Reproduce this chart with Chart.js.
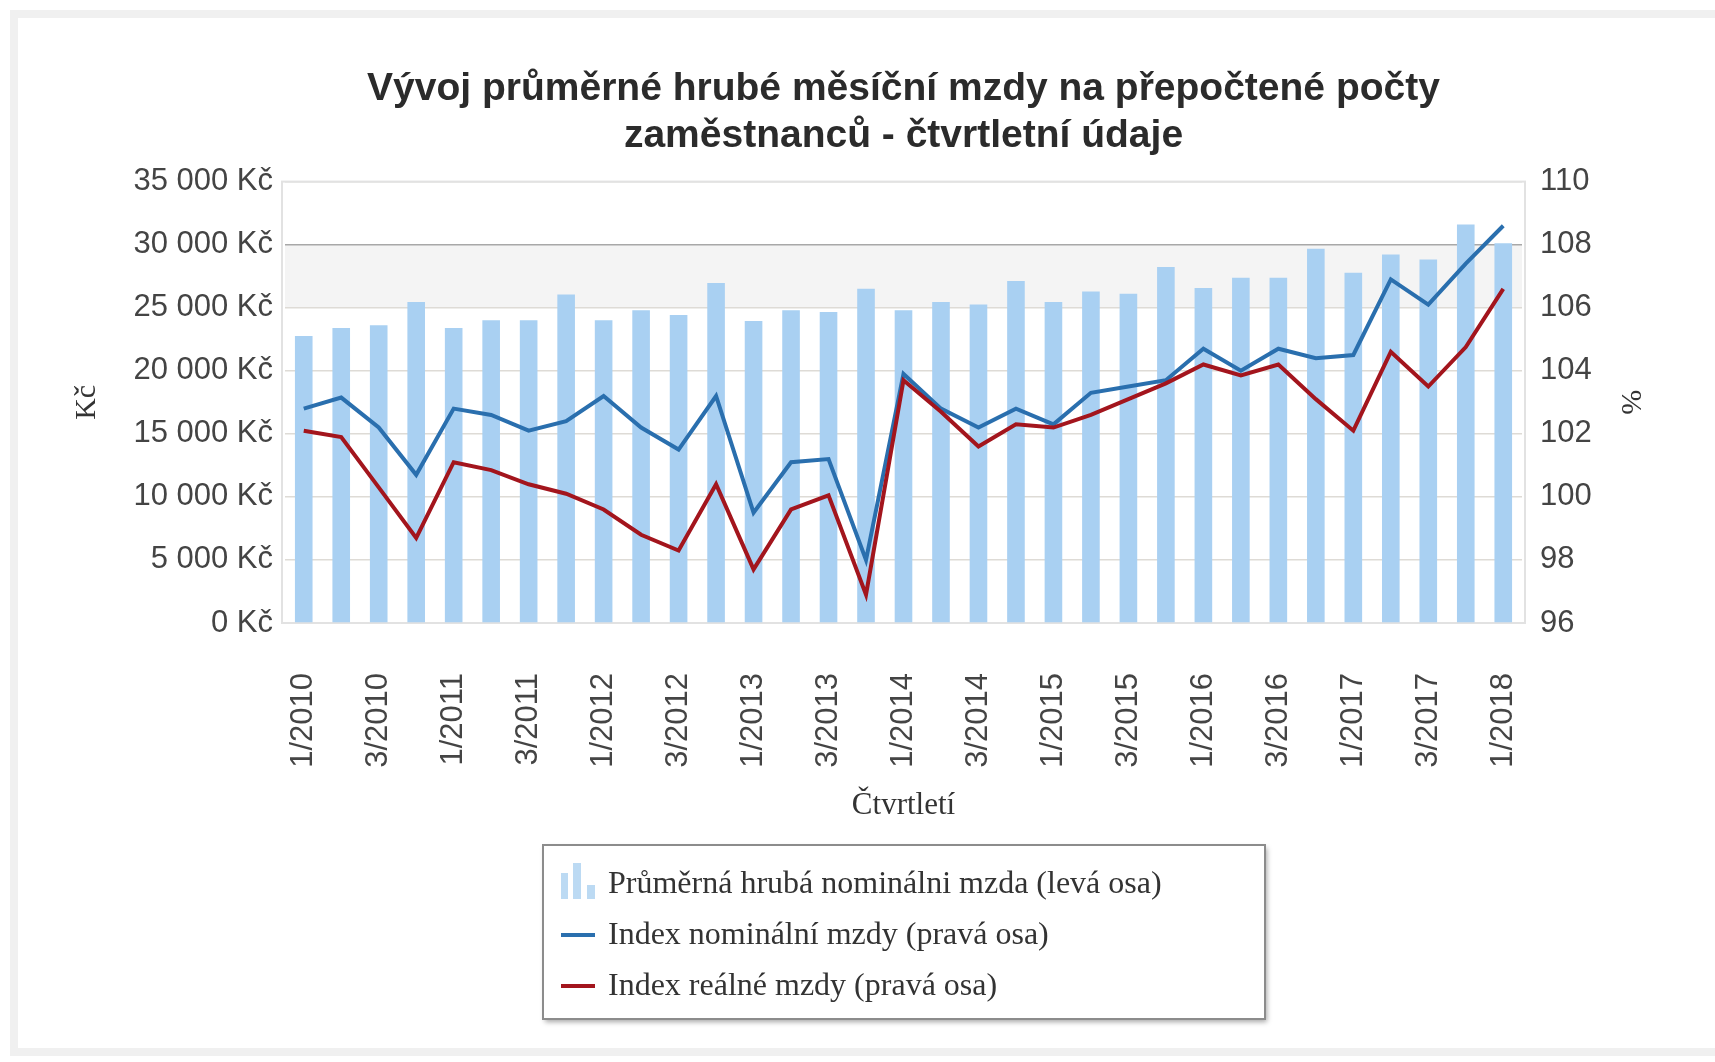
<!DOCTYPE html>
<html lang="cs">
<head>
<meta charset="utf-8">
<title>Vývoj průměrné hrubé měsíční mzdy</title>
<script src="https://cdn.jsdelivr.net/npm/chart.js@4.4.0/dist/chart.umd.min.js"></script>
<style>
  html, body { margin: 0; padding: 0; background: #fff; }
  #wrap { position: relative; width: 1715px; height: 1062px; overflow: hidden; }
  #frame { position: absolute; left: 10px; top: 10px; right: -30px; bottom: 6px; border: 8px solid #f0f0f0; background: #fff; }
  canvas { position: absolute; left: 0; top: 0; }
</style>
</head>
<body>
<div id="wrap">
  <div id="frame"></div>
  <canvas id="myChart" width="1715" height="1062"></canvas>
</div>
<script>
/* DONNEES */
const ctvrtleti = [
    '1/2010', '2/2010', '3/2010', '4/2010',
    '1/2011', '2/2011', '3/2011', '4/2011',
    '1/2012', '2/2012', '3/2012', '4/2012',
    '1/2013', '2/2013', '3/2013', '4/2013',
    '1/2014', '2/2014', '3/2014', '4/2014',
    '1/2015', '2/2015', '3/2015', '4/2015',
    '1/2016', '2/2016', '3/2016', '4/2016',
    '1/2017', '2/2017', '3/2017', '4/2017',
    '1/2018'
];
const mzda = [
    22750, 23390, 23600, 25450,
    23390, 24000, 24000, 26050,
    24000, 24790, 24420, 26950,
    23940, 24790, 24660, 26500,
    24790, 25450, 25260, 27110,
    25450, 26290, 26110, 28220,
    26560, 27380, 27380, 29670,
    27770, 29220, 28830, 31600,
    30120
];
const indexNominalni = [
    102.8, 103.15, 102.2, 100.7,
    102.8, 102.6, 102.1, 102.4,
    103.2, 102.2, 101.5, 103.2,
    99.5, 101.1, 101.2, 98.0,
    103.9, 102.8, 102.2, 102.8,
    102.3, 103.3, 103.5, 103.7,
    104.7, 104.0, 104.7, 104.4,
    104.5, 106.9, 106.1, 107.4,
    108.6
];
const indexRealne = [
    102.1, 101.9, 100.3, 98.7,
    101.1, 100.85, 100.4, 100.1,
    99.6, 98.8, 98.3, 100.4,
    97.7, 99.6, 100.05, 96.9,
    103.7, 102.7, 101.6, 102.3,
    102.2, 102.6, 103.1, 103.6,
    104.2, 103.85, 104.2, 103.1,
    102.1, 104.6, 103.5, 104.75,
    106.6
];

const sans = "'Liberation Sans', Arial, sans-serif";
const serif = "'Liberation Serif', 'Times New Roman', serif";
const couleurBarre = '#a9d0f2';
const couleurNominal = '#2a6fae';
const couleurReal = '#a3151d';

/* BANDE GRISE + CADRE DU GRAPHIQUE */
const fondPlot = {
    id: 'fondPlot',
    beforeDraw(chart) {
        const c = chart.ctx;
        const a = chart.chartArea;
        const y = chart.scales.y;
        c.save();
        c.fillStyle = '#f4f4f4';
        c.fillRect(a.left, y.getPixelForValue(30000), a.width, y.getPixelForValue(25000) - y.getPixelForValue(30000));
        c.restore();
    },
    beforeDatasetsDraw(chart) {
        const c = chart.ctx;
        const a = chart.chartArea;
        c.save();
        c.strokeStyle = '#e2e2e2';
        c.lineWidth = 2;
        c.strokeRect(a.left - 3, a.top, a.width + 6, a.height);
        c.restore();
    }
};

/* LEGENDE EN BOITE */
const legendeBoite = {
    id: 'legendeBoite',
    afterDraw(chart) {
        const c = chart.ctx;
        const a = chart.chartArea;
        const w = 722, h = 174;
        const x = Math.round((a.left + a.right) / 2 - w / 2);
        const y = chart.scales.x.bottom + 21;
        c.save();
        c.shadowColor = 'rgba(0,0,0,0.35)';
        c.shadowBlur = 5;
        c.shadowOffsetX = 2;
        c.shadowOffsetY = 3;
        c.fillStyle = '#fff';
        c.fillRect(x, y, w, h);
        c.shadowColor = 'transparent';
        c.strokeStyle = '#8c8c8c';
        c.lineWidth = 2;
        c.strokeRect(x, y, w, h);

        // petite icone de barres
        c.fillStyle = '#bcdaf3';
        c.fillRect(x + 18, y + 28, 7, 26);
        c.fillRect(x + 30, y + 18, 8, 36);
        c.fillRect(x + 44, y + 40, 8, 14);

        c.lineWidth = 4;
        c.strokeStyle = couleurNominal;
        c.beginPath(); c.moveTo(x + 18, y + 90); c.lineTo(x + 52, y + 90); c.stroke();
        c.strokeStyle = couleurReal;
        c.beginPath(); c.moveTo(x + 18, y + 141); c.lineTo(x + 52, y + 141); c.stroke();

        c.fillStyle = '#333';
        c.font = '32px ' + serif;
        c.textBaseline = 'middle';
        const textes = chart.data.datasets.map(d => d.label);
        textes.forEach(function (t, i) {
            c.fillText(t, x + 65, y + 40 + i * 51);
        });
        c.restore();
    }
};

const kc = v => String(v).replace(/\B(?=(\d{3})+(?!\d))/g, ' ') + ' Kč';

var ctx = document.getElementById('myChart').getContext('2d');
var myChart = new Chart(ctx, {
    type: 'bar',
    data: {
        labels: ctvrtleti,
        datasets: [{
            type: 'bar',
            label: 'Průměrná hrubá nominálni mzda (levá osa)',
            data: mzda,
            backgroundColor: couleurBarre,
            yAxisID: 'y',
            categoryPercentage: 1,
            barPercentage: 0.47,
            order: 3
        }, {
            type: 'line',
            label: 'Index nominální mzdy (pravá osa)',
            data: indexNominalni,
            borderColor: couleurNominal,
            borderWidth: 4,
            pointRadius: 0,
            tension: 0,
            yAxisID: 'y1',
            order: 2
        }, {
            type: 'line',
            label: 'Index reálné mzdy (pravá osa)',
            data: indexRealne,
            borderColor: couleurReal,
            borderWidth: 4,
            pointRadius: 0,
            tension: 0,
            yAxisID: 'y1',
            order: 1
        }]
    },
    options: {
        responsive: false,
        animation: false,
        layout: { padding: { left: 65, right: 63, top: 24, bottom: 238 } },
        plugins: {
            legend: { display: false },
            tooltip: { enabled: false },
            title: {
                display: true,
                fullSize: false,
                text: ['Vývoj průměrné hrubé měsíční mzdy na přepočtené počty', 'zaměstnanců - čtvrtletní údaje'],
                color: '#2b2b2b',
                font: { family: sans, size: 39, weight: 'bold', lineHeight: 1.2 },
                padding: { top: 42, bottom: 22 }
            }
        },
        scales: {
            x: {
                grid: { display: false, drawTicks: false },
                border: { display: false },
                ticks: {
                    autoSkip: false,
                    minRotation: 90,
                    maxRotation: 90,
                    padding: 50,
                    color: '#444',
                    font: { family: sans, size: 31 },
                    callback: function (val, i) {
                        return i % 2 === 0 ? this.getLabelForValue(val) : '';
                    }
                },
                title: { display: true, text: 'Čtvrtletí', color: '#333', font: { family: serif, size: 31 }, padding: { top: 4, bottom: 0 } },
                afterFit: function (s) { s.height = 201; }
            },
            y: {
                position: 'left',
                min: 0,
                max: 35000,
                grid: {
                    drawTicks: false,
                    lineWidth: 1.5,
                    color: c => c.tick && c.tick.value === 30000 ? '#a8a8a8' : '#dedbd6'
                },
                border: { display: false },
                ticks: { stepSize: 5000, padding: 12, color: '#444', font: { family: sans, size: 31 }, callback: kc },
                title: { display: true, text: 'Kč', color: '#333', font: { family: serif, size: 30 } },
                afterFit: function (s) { s.width = 220; }
            },
            y1: {
                position: 'right',
                min: 96,
                max: 110,
                grid: { display: false, drawTicks: false },
                border: { display: false },
                ticks: { stepSize: 2, padding: 18, color: '#444', font: { family: sans, size: 31 } },
                title: { display: true, text: '%', color: '#333', font: { family: serif, size: 30 } },
                afterFit: function (s) { s.width = 130; }
            }
        }
    },
    plugins: [fondPlot, legendeBoite]
});
</script>
</body>
</html>
